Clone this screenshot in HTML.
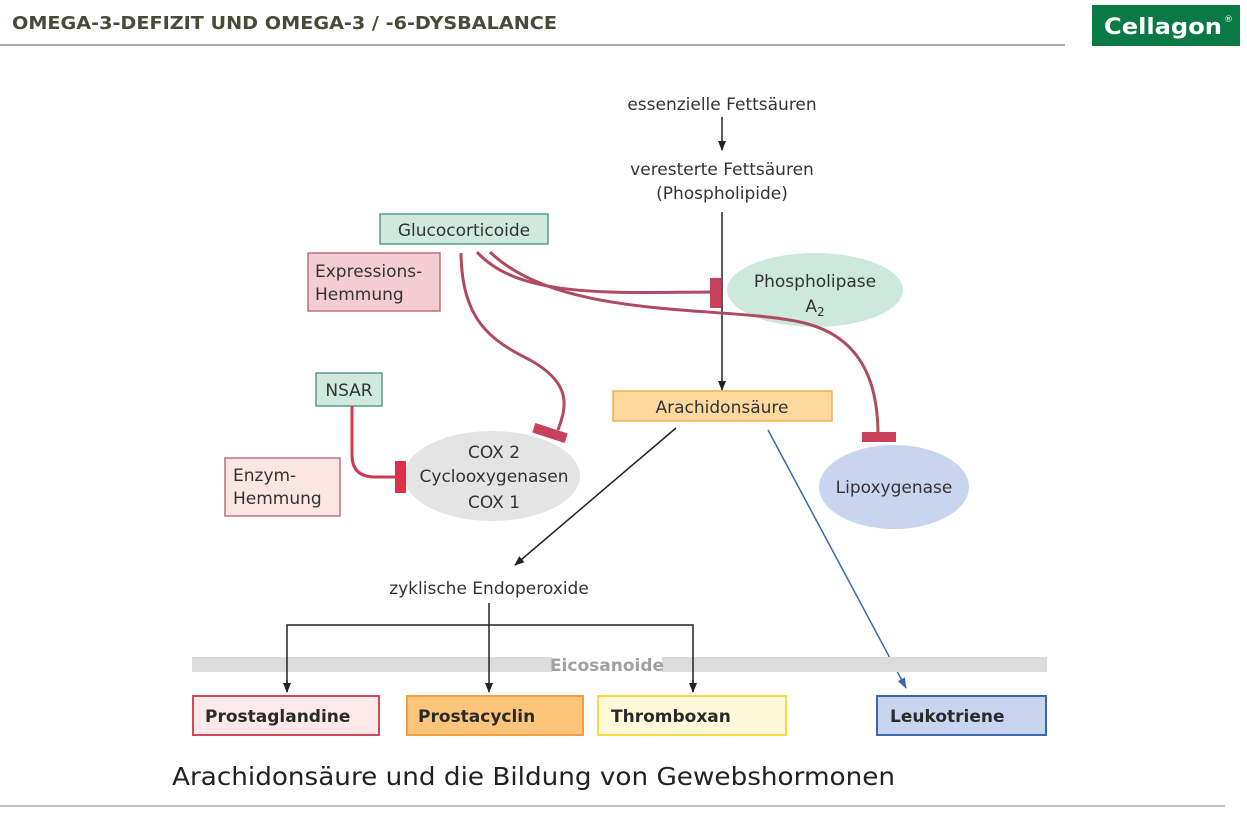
<!DOCTYPE html>
<html><head><meta charset="utf-8"><style>
body{margin:0;width:1247px;height:814px;background:#fff;overflow:hidden}
svg{display:block}
text{font-family:"DejaVu Sans","Liberation Sans",sans-serif}
</style></head><body>
<svg width="1247" height="814" viewBox="0 0 1247 814">
<defs>
<marker id="ab" markerWidth="10" markerHeight="10" refX="9" refY="5" orient="auto" markerUnits="userSpaceOnUse"><path d="M0,1 L10,5 L0,9 z" fill="#222"/></marker>
<marker id="abl" markerWidth="12" markerHeight="10" refX="10" refY="5" orient="auto" markerUnits="userSpaceOnUse"><path d="M0,1 L11,5 L0,9 z" fill="#3a68b0"/></marker>
</defs>
<text x="12" y="29" font-family="Liberation Sans" font-weight="bold" font-size="18" fill="#4a4a3a" textLength="545" lengthAdjust="spacingAndGlyphs">OMEGA-3-DEFIZIT UND  OMEGA-3 / -6-DYSBALANCE</text>
<line x1="0" y1="45" x2="1065" y2="45" stroke="#aaa" stroke-width="2"/>
<rect x="1092" y="5" width="148" height="41" fill="#0a7a45"/>
<text x="1104" y="34" font-family="Liberation Sans" font-weight="bold" font-size="22" fill="#fff" textLength="118" lengthAdjust="spacingAndGlyphs">Cellagon</text>
<text x="1224" y="22" font-family="Liberation Sans" font-size="9" fill="#fff">®</text>
<line x1="0" y1="806" x2="1225" y2="806" stroke="#aaa" stroke-width="1.5"/>

<g font-size="17" fill="#333" text-anchor="middle">
<text x="722" y="110">essenzielle Fettsäuren</text>
<text x="722" y="175">veresterte Fettsäuren</text>
<text x="722" y="199">(Phospholipide)</text>
</g>
<line x1="722" y1="117" x2="722" y2="150" stroke="#222" stroke-width="1.5" marker-end="url(#ab)"/>
<line x1="722" y1="212" x2="722" y2="390" stroke="#222" stroke-width="1.5" marker-end="url(#ab)"/>

<ellipse cx="815" cy="290" rx="88" ry="37" fill="#cde8dc"/>
<text x="815" y="287" font-size="17" fill="#333" text-anchor="middle">Phospholipase</text>
<text x="815" y="312" font-size="17" fill="#333" text-anchor="middle">A<tspan font-size="12" dy="4">2</tspan></text>

<ellipse cx="492" cy="476" rx="88" ry="45" fill="#e4e4e4"/>
<g font-size="17" fill="#333" text-anchor="middle">
<text x="494" y="458">COX 2</text><text x="494" y="482">Cyclooxygenasen</text><text x="494" y="508">COX 1</text></g>

<ellipse cx="894" cy="487" rx="75" ry="42" fill="#c9d4ef"/>
<text x="894" y="493" font-size="17" fill="#333" text-anchor="middle">Lipoxygenase</text>

<rect x="380" y="214" width="168" height="30" fill="#cfe9df" stroke="#5a9a85" stroke-width="1.5"/>
<text x="464" y="236" font-size="17" fill="#333" text-anchor="middle">Glucocorticoide</text>
<rect x="308" y="253" width="132" height="58" fill="#f3cdd3" stroke="#c0707a" stroke-width="1.5"/>
<text x="315" y="277" font-size="17" fill="#333">Expressions-</text>
<text x="315" y="300" font-size="17" fill="#333">Hemmung</text>
<rect x="316" y="373" width="66" height="33" fill="#cfe9df" stroke="#5a9a85" stroke-width="1.5"/>
<text x="349" y="396" font-size="17" fill="#333" text-anchor="middle">NSAR</text>
<rect x="225" y="458" width="115" height="58" fill="#fbe6e2" stroke="#c0707a" stroke-width="1.5"/>
<text x="233" y="481" font-size="17" fill="#333">Enzym-</text>
<text x="233" y="504" font-size="17" fill="#333">Hemmung</text>
<rect x="613" y="391" width="219" height="30" fill="#fdd9a0" stroke="#f0b050" stroke-width="1.5"/>
<text x="722" y="413" font-size="17" fill="#333" text-anchor="middle">Arachidonsäure</text>

<g fill="none" stroke="#b04a60" stroke-width="3">
<path d="M461,253 C462,320 490,340 530,360 C575,385 565,410 558,430"/>
<path d="M477,252 C520,300 620,292 715,292"/>
<path d="M490,252 C560,320 720,305 800,322 C860,335 878,380 878,435"/>
</g>
<path d="M352,406 L352,455 Q352,477 375,477 L398,477" fill="none" stroke="#d03850" stroke-width="3"/>
<g fill="#c8405a">
<rect x="710" y="278" width="11" height="30"/>
<rect x="862" y="432" width="34" height="10"/>
<rect x="533" y="428" width="34" height="10" transform="rotate(18 550 433)"/>
<rect x="395" y="461" width="11" height="32" fill="#e03048"/>
</g>

<line x1="676" y1="428" x2="515" y2="565" stroke="#222" stroke-width="1.5" marker-end="url(#ab)"/>
<line x1="768" y1="430" x2="906" y2="688" stroke="#3a68b0" stroke-width="1.5" marker-end="url(#abl)"/>
<text x="489" y="594" font-size="17" fill="#333" text-anchor="middle">zyklische Endoperoxide</text>

<rect x="192" y="657" width="855" height="15" fill="#dcdcdc"/>
<rect x="552" y="655" width="110" height="19" fill="#fff"/>
<text x="607" y="671" font-size="17" font-weight="bold" fill="#a0a0a0" text-anchor="middle">Eicosanoide</text>

<g stroke="#222" stroke-width="1.5" fill="none">
<line x1="489" y1="603" x2="489" y2="692" marker-end="url(#ab)"/>
<polyline points="287,692 287,625 693,625 693,692"/>
<line x1="287" y1="680" x2="287" y2="692" marker-end="url(#ab)"/>
<line x1="693" y1="680" x2="693" y2="692" marker-end="url(#ab)"/>
</g>

<g font-size="17" font-weight="bold" fill="#2a2a2a">
<rect x="193" y="696" width="186" height="39" fill="#fde9e9" stroke="#d04a5a" stroke-width="2"/>
<text x="205" y="722">Prostaglandine</text>
<rect x="407" y="696" width="176" height="39" fill="#fdc57a" stroke="#f0a040" stroke-width="2"/>
<text x="418" y="722">Prostacyclin</text>
<rect x="598" y="696" width="188" height="39" fill="#fef9d8" stroke="#f5dc40" stroke-width="2"/>
<text x="611" y="722">Thromboxan</text>
<rect x="877" y="696" width="169" height="39" fill="#c9d4ef" stroke="#3a68b0" stroke-width="2"/>
<text x="890" y="722">Leukotriene</text>
</g>
<text x="172" y="785" font-size="25" fill="#222" textLength="723" lengthAdjust="spacingAndGlyphs">Arachidonsäure und die Bildung von Gewebshormonen</text>
</svg>
</body></html>
